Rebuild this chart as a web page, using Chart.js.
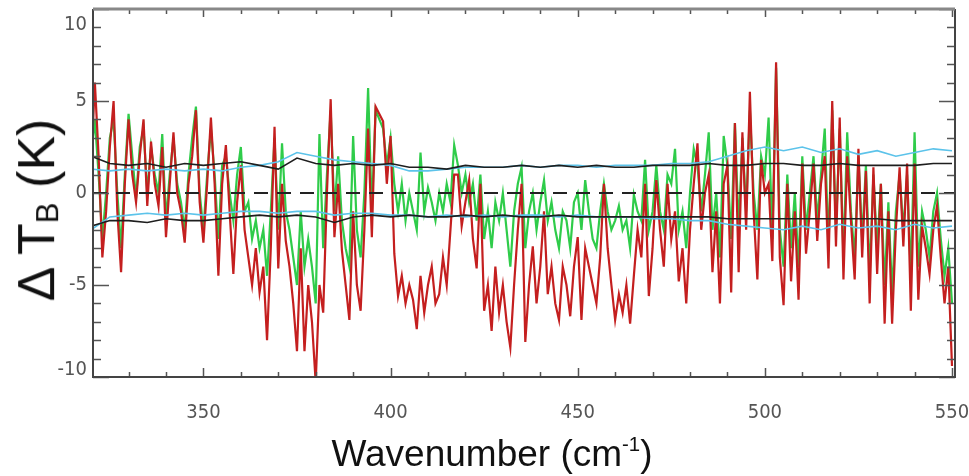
<!DOCTYPE html>
<html>
<head>
<meta charset="utf-8">
<script src="https://cdn.jsdelivr.net/npm/chart.js@4"></script>
<style>
  body { margin: 0; background: #fff; }
  #wrap { position: relative; width: 969px; height: 476px; overflow: hidden; background: #fff; }
  #c { position: absolute; left: 0; top: 0; }
  .xtitle { position: absolute; left: 492px; top: 424px; transform: translateX(-50%);
            font: 37px 'Liberation Sans', Arial, sans-serif; line-height: 40px; white-space: nowrap; color: #111; }
  .xtitle sup { font-size: 0.55em; vertical-align: 0.75em; }
  .ytitle { position: absolute; left: 42px; top: 210px; transform: translate(-50%, -50%) rotate(-90deg);
            font: 52px 'Liberation Sans', Arial, sans-serif; line-height: 52px; white-space: nowrap; color: #111; }
  .ytitle sub { font-size: 0.6em; vertical-align: -0.12em; }
</style>
</head>
<body>
<div id="wrap">
  <canvas id="c" width="969" height="476"></canvas>
  <div class="ytitle">&Delta; T<sub>B</sub> (K)</div>
  <div class="xtitle">Wavenumber (cm<sup>-1</sup>)</div>
</div>
<script>
// spectra sampled every 1 cm-1 from 320 to 550
const wnStart = 320;
const wnStep = 1;

// red spectrum (Delta TB, K)
const redTB = [
   1.5,  6.0,  2.0, -3.5, -1.0,  2.5,  5.0, -1.0, -4.3,  0.5,
   4.0,  1.0, -0.5,  2.0,  4.0, -0.7,  2.8,  0.5, -0.7,  2.5,
  -2.4,  0.5,  3.3,  0.0, -1.0, -2.7,  0.5,  2.0,  4.5, -0.5,
  -2.7,  0.5,  4.1,  0.5, -4.5,  0.5,  2.6, -1.0, -4.4, -0.5,
   1.5, -2.0, -3.5, -5.0, -3.0, -5.4, -4.0, -8.0, -3.0,  3.6,
  -4.1,  0.5, -2.6, -4.0, -6.0, -8.6, -3.0, -8.6, -5.0, -7.0,
 -10.3, -5.0, -6.5,  0.0,  5.1, -2.4,  0.5, -3.1, -5.0, -6.9,
  -1.0, -5.0, -6.4, -2.0,  3.5, -2.4,  4.7,  4.3,  3.9,  0.5,
   3.1, -3.3, -5.6, -4.5, -6.0, -5.0, -5.8, -7.4, -4.5, -6.5,
  -5.0, -4.0, -6.0, -5.5, -3.5, -5.0, -2.0,  1.0,  1.0, -1.8,
  -0.5,  0.7, -2.5, -4.1,  0.5, -6.4, -5.0, -7.5, -4.0, -6.5,
  -5.0, -7.0, -8.4, -5.0, -2.0,  0.5, -8.1, -5.0, -2.9, -6.0,
  -4.0, -1.0, -5.5, -4.0, -6.0, -6.9, -4.0, -5.0, -6.7, -4.0,
  -2.4, -6.9, -3.0, -4.0, -5.0, -6.0, -3.5,  0.5, -3.0, -5.0,
  -6.9, -5.5, -6.5, -5.0, -7.1, -4.5, -2.0, -3.5,  0.5, -5.6,
  -3.0,  0.7, -2.0, -4.0,  0.5, -2.5, -1.0, -4.8, -3.0, -6.0,
  -2.0,  0.5,  2.7, -2.0,  0.0,  1.0, -4.3, -1.0, -6.0,  0.5,
   1.5, -5.4,  3.8, -4.3,  3.3, -2.0,  5.5, -1.0, -4.7,  1.8,
   0.0,  0.5, -3.7,  7.1, -3.5, -6.1,  0.5, -4.8, -1.0, -5.8,
   1.6, -3.3, -1.0,  1.6, -2.6,  0.5,  2.0, -4.1,  5.0, -2.9,
   4.1, -4.7,  2.0, -1.5, -4.7,  2.4, -3.5,  1.2, -6.0,  1.4,
  -4.4,  0.5, -7.1, -1.0, -7.1, -2.0,  1.4, -2.9,  1.6, -6.4,
   1.6, -5.8, -1.8, -3.0, -4.4, -2.0, -0.7, -3.5, -6.0, -4.0,
  -9.4
];

// green spectrum (Delta TB, K)
const greenTB = [
   2.0,  4.0,  1.0, -2.5,  0.0,  3.0,  4.0,  0.0, -3.0,  1.0,
   4.3,  2.0, -0.3,  2.5,  3.5,  0.0,  2.5,  1.0,  0.0,  3.2,
  -1.5,  1.0,  3.0,  0.5, -0.5, -2.0,  1.0,  3.0,  4.7,  0.0,
  -2.0,  1.0,  3.5,  1.0, -2.5,  1.5,  2.0,  0.0, -1.5,  1.0,
   2.5, -1.0, -0.5, -2.5, -1.5, -3.0, -2.0, -4.5, -1.0,  3.0,
  -2.0,  2.7, -1.0, -2.0, -3.5, -5.0, -1.0, -4.0, -2.5, -4.0,
  -6.0,  3.2, -3.0,  1.0,  4.5, -1.0,  2.0, -1.5, -3.0, -4.0,
   3.1, -2.0, -3.5,  0.0,  5.7, -1.0,  4.5,  4.0,  3.5,  1.5,
   3.0,  0.5, -1.0,  0.5, -1.5,  0.0, -1.0, -2.0,  2.2, -1.0,
   0.3, -0.5, -1.5,  0.0, -1.0,  0.5, -0.5,  2.6,  1.5,  0.0,
   1.0, -0.5,  0.5, -1.5,  1.0, -2.5, -1.0, -3.0, -0.5, -1.5,
   0.0, -2.0, -4.0, -1.0,  0.5,  1.4, -3.0, -1.0,  0.0, -2.0,
  -0.5,  0.7, -1.5, -0.5, -2.0, -3.0, -1.0, -1.5, -3.0, -0.5,
   0.0, -2.0,  0.7, -1.0, -2.5, -3.0, -1.0,  0.5, -1.0, -2.0,
  -1.5, -0.7, -2.0, -1.5, -3.0, -0.1, -1.0, -1.5,  1.8, -2.0,
  -1.0,  1.5, -1.0, -2.0,  1.0,  0.5,  2.4, -2.0, -1.0, -3.0,
   0.0,  2.4,  1.5, -1.0,  1.0,  3.3, -2.0,  0.0, -3.5,  3.1,
   1.5, -2.5,  3.8, -2.0,  3.0, -1.0,  4.5,  0.0, -2.0,  2.0,
   1.0,  4.1, -2.5,  6.8, -2.0, -4.0,  1.0, -3.0,  0.0, -4.0,
   2.0, -2.0,  0.0,  2.0, -1.5,  1.0,  3.5, -3.0,  4.5, -2.0,
   3.5, -3.5,  3.3, -1.0, -3.5,  2.0, -2.5,  1.5, -4.5,  1.0,
  -3.0,  0.5, -5.0, -0.5, -5.5, -1.0,  1.0, -2.0,  1.0, -4.5,
   3.3, -4.0, -1.0, -2.0, -3.5, -1.0,  0.0, -2.5, -4.5, -3.0,
  -6.0
];

// envelopes sampled every 5 cm-1 from 320 to 550
const envStart = 320;
const envStep = 5;
const blackUpper = [2.0, 1.6, 1.5, 1.6, 1.4, 1.6, 1.5, 1.6, 1.7, 1.5, 1.3, 1.9, 1.6, 1.5, 1.6, 1.5,
  1.6, 1.4, 1.4, 1.3, 1.5, 1.4, 1.4, 1.5, 1.4, 1.5, 1.4, 1.5, 1.4, 1.4, 1.5, 1.5,
  1.5, 1.6, 1.5, 1.5, 1.6, 1.6, 1.5, 1.5, 1.6, 1.5, 1.5, 1.5, 1.5, 1.6, 1.6];
const blackLower = [-1.8, -1.5, -1.5, -1.6, -1.4, -1.5, -1.5, -1.4, -1.3, -1.2, -1.3, -1.2, -1.3, -1.6, -1.3, -1.2,
  -1.3, -1.2, -1.3, -1.3, -1.2, -1.3, -1.2, -1.3, -1.3, -1.2, -1.3, -1.3, -1.3, -1.3, -1.3, -1.3,
  -1.3, -1.3, -1.4, -1.4, -1.4, -1.4, -1.4, -1.4, -1.4, -1.4, -1.4, -1.5, -1.5, -1.5, -1.5];
const cyanUpper = [1.3, 1.2, 1.3, 1.2, 1.3, 1.2, 1.3, 1.2, 1.4, 1.5, 1.7, 2.2, 2.0, 1.8, 1.7, 1.6,
  1.5, 1.2, 1.2, 1.3, 1.4, 1.4, 1.4, 1.5, 1.4, 1.5, 1.5, 1.4, 1.5, 1.5, 1.5, 1.6,
  1.6, 1.7, 2.0, 2.3, 2.5, 2.3, 2.5, 2.2, 2.4, 2.1, 2.3, 2.0, 2.2, 2.4, 2.3];
const cyanLower = [-2.0, -1.3, -1.2, -1.1, -1.2, -1.1, -1.2, -1.1, -1.0, -1.0, -1.1, -1.0, -1.0, -1.2, -1.1, -1.1,
  -1.2, -1.2, -1.3, -1.2, -1.3, -1.2, -1.3, -1.2, -1.2, -1.3, -1.2, -1.3, -1.3, -1.3, -1.4, -1.4,
  -1.5, -1.5, -1.7, -1.8, -1.9, -2.0, -1.8, -2.0, -1.7, -1.9, -1.8, -2.0, -1.7, -1.9, -1.8];

const zeroLevel = 0;

// axes
const xMin = 320.5, xMax = 550.8;
const yMin = -10, yMax = 10;
const xTicks = [350, 400, 450, 500, 550];
const yTicks = [-10, -5, 0, 5, 10];
const xMinorStep = 10;
const yMinorStep = 1;

function toPoints(vals, start, step){
    return vals.map((v, i) => ({x: start + i * step, y: v}));
}

// white background, box frame with inward ticks (IDL style)
const idlFrame = {
    id: 'idlFrame',
    beforeDraw(chart){
        const ctx = chart.ctx;
        ctx.save();
        ctx.fillStyle = '#fff';
        ctx.fillRect(0, 0, chart.width, chart.height);
        ctx.restore();
    },
    afterDraw(chart){
        const ctx = chart.ctx;
        const a = chart.chartArea;
        const xs = chart.scales.x, ys = chart.scales.y;
        ctx.save();
        ctx.strokeStyle = '#555';
        ctx.lineWidth = 1.5;
        ctx.beginPath();
        // x ticks, bottom and top
        for(let v = Math.ceil(xMin / xMinorStep) * xMinorStep; v <= xMax; v += xMinorStep){
            const px = Math.round(xs.getPixelForValue(v)) + 0.5;
            const major = xTicks.includes(v);
            const lb = major ? 9 : 5, lt = major ? 8 : 5;
            ctx.moveTo(px, a.bottom); ctx.lineTo(px, a.bottom - lb);
            ctx.moveTo(px, a.top); ctx.lineTo(px, a.top + lt);
        }
        // y ticks, left and right
        for(let v = yMin; v <= yMax; v += yMinorStep){
            const py = Math.round(ys.getPixelForValue(v)) + 0.5;
            const major = yTicks.includes(v);
            const l = major ? 16 : 8;
            ctx.moveTo(a.left, py); ctx.lineTo(a.left + l, py);
            ctx.moveTo(a.right, py); ctx.lineTo(a.right - l, py);
        }
        ctx.stroke();

        // frame
        ctx.lineWidth = 2;
        ctx.strokeStyle = '#444';
        ctx.beginPath();
        ctx.moveTo(a.left, a.top); ctx.lineTo(a.left, a.bottom); ctx.lineTo(a.right, a.bottom); ctx.lineTo(a.right, a.top);
        ctx.stroke();
        ctx.lineWidth = 3;
        ctx.strokeStyle = '#888';
        ctx.beginPath();
        ctx.moveTo(a.left, a.top); ctx.lineTo(a.right, a.top);
        ctx.stroke();

        // tick labels
        ctx.fillStyle = '#555';
        ctx.font = "20px 'Liberation Sans Narrow', 'DejaVu Sans Condensed', sans-serif";
        ctx.textAlign = 'center';
        ctx.textBaseline = 'middle';
        xTicks.forEach(v => {
            ctx.fillText(String(v), xs.getPixelForValue(v), a.bottom + 36);
        });
        ctx.textAlign = 'right';
        yTicks.forEach(v => {
            let py = ys.getPixelForValue(v);
            py = Math.min(Math.max(py, a.top + 16), a.bottom - 7);
            ctx.fillText(String(v), a.left - 6, py);
        });
        ctx.restore();
    }
};

const lineStyle = {pointRadius: 0, tension: 0, fill: false};

new Chart(document.getElementById('c'), {
    type: 'line',
    data: {
        datasets: [
            Object.assign({label: 'black upper', data: toPoints(blackUpper, envStart, envStep),
                borderColor: '#1e1e1e', borderWidth: 1.6, order: 1}, lineStyle),
            Object.assign({label: 'black lower', data: toPoints(blackLower, envStart, envStep),
                borderColor: '#1e1e1e', borderWidth: 1.6, order: 1}, lineStyle),
            Object.assign({label: 'cyan upper', data: toPoints(cyanUpper, envStart, envStep),
                borderColor: '#5cc3ea', borderWidth: 1.6, order: 2}, lineStyle),
            Object.assign({label: 'cyan lower', data: toPoints(cyanLower, envStart, envStep),
                borderColor: '#5cc3ea', borderWidth: 1.6, order: 2}, lineStyle),
            Object.assign({label: 'zero', data: [{x: xMin, y: zeroLevel}, {x: xMax, y: zeroLevel}],
                borderColor: '#222', borderWidth: 2, borderDash: [14, 9], order: 3}, lineStyle),
            Object.assign({label: 'red', data: toPoints(redTB, wnStart, wnStep),
                borderColor: '#c41f1f', borderWidth: 2.2, order: 4}, lineStyle),
            Object.assign({label: 'green', data: toPoints(greenTB, wnStart, wnStep),
                borderColor: '#2fcc4a', borderWidth: 2.2, order: 5}, lineStyle)
        ]
    },
    options: {
        responsive: false,
        animation: false,
        devicePixelRatio: 1,
        events: [],
        layout: {padding: {left: 93, right: 14, top: 9, bottom: 99}},
        plugins: {legend: {display: false}, tooltip: {enabled: false}},
        scales: {
            x: {type: 'linear', min: xMin, max: xMax, display: false},
            y: {type: 'linear', min: yMin, max: yMax, display: false}
        }
    },
    plugins: [idlFrame]
});
</script>
</body>
</html>
